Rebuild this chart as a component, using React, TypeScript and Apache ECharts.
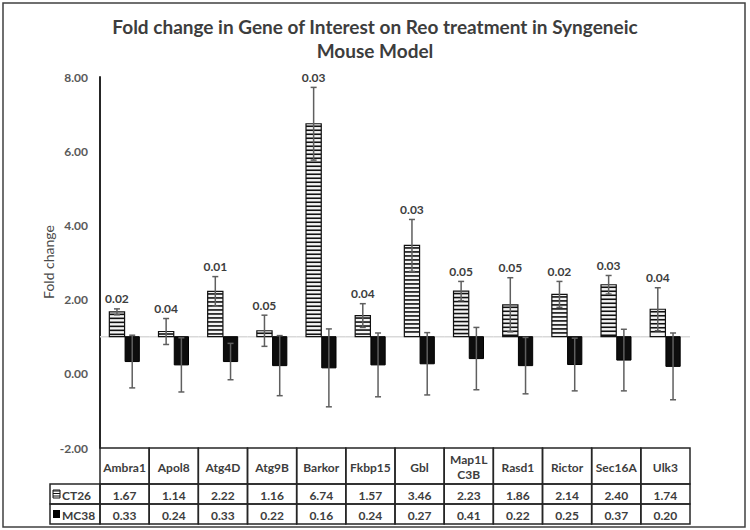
import React, { useEffect, useRef } from "react";
import * as echarts from "echarts";

const categories = ["Ambra1", "Apol8", "Atg4D", "Atg9B", "Barkor", "Fkbp15", "Gbl", "Map1L\nC3B", "Rasd1", "Rictor", "Sec16A", "Ulk3"];
const ct26 = [1.67, 1.14, 2.22, 1.16, 6.74, 1.57, 3.46, 2.23, 1.86, 2.14, 2.4, 1.74];
const mc38 = [0.33, 0.24, 0.33, 0.22, 0.16, 0.24, 0.27, 0.41, 0.22, 0.25, 0.37, 0.2];
const ct26Err = [0.08, 0.35, 0.4, 0.42, 0.98, 0.32, 0.7, 0.26, 0.73, 0.35, 0.25, 0.58];
const mc38Err = [0.71, 0.73, 0.49, 0.81, 1.05, 0.86, 0.84, 0.84, 0.76, 0.71, 0.83, 0.9];
const pValues = ["0.02", "0.04", "0.01", "0.05", "0.03", "0.04", "0.03", "0.05", "0.05", "0.02", "0.03", "0.04"];
const seriesNames = ["CT26", "MC38"];
const baseline = 1;
const yMin = -2;
const yMax = 8;
const yInterval = 2;

const FONT = "Lato, 'Open Sans', sans-serif";
const TXT = "#3d3d3d";
const LINE = "#262626";
const ERR = "#5f5f5f";
const HEADER_H = 36;
const ROW_H = 20;

function errorBar(x: number, yHi: number, yLo: number) {
  return [
    { type: "line", shape: { x1: x, y1: yHi, x2: x, y2: yLo }, style: { stroke: ERR, lineWidth: 1.5 } },
    { type: "line", shape: { x1: x - 3, y1: yHi, x2: x + 3, y2: yHi }, style: { stroke: ERR, lineWidth: 1.5 } },
    { type: "line", shape: { x1: x - 3, y1: yLo, x2: x + 3, y2: yLo }, style: { stroke: ERR, lineWidth: 1.5 } },
  ];
}

function txt(text: string, x: number, y: number, size: number, weight: string, align = "center") {
  return {
    type: "text",
    style: {
      text, x, y, fill: TXT, font: `${weight} ${size}px ${FONT}`,
      align, verticalAlign: "middle", textAlign: align, textVerticalAlign: "middle", lineHeight: 15,
    },
  };
}

export default function App() {
  const ref = useRef<HTMLDivElement>(null);
  useEffect(() => {
    document.body.style.margin = "0";
    const chart = echarts.init(ref.current!, null, { renderer: "svg" });

    const ctRender = (params: any, api: any) => {
      const i = api.value(0);
      const v = api.value(1);
      const e = api.value(2);
      const w = api.size([1, 0])[0];
      const [cx, yTop] = api.coord([i, v]);
      const yBase = api.coord([i, baseline])[1];
      const bw = w * 0.31;
      const x0 = cx - bw;
      const children: any[] = [
        { type: "rect", shape: { x: x0, y: yTop, width: bw, height: yBase - yTop }, style: { fill: "#f4f4f4", stroke: "#111", lineWidth: 1.2 } },
      ];
      for (let y = yTop + 2.5; y < yBase - 1; y += 4) {
        children.push({ type: "line", shape: { x1: x0, y1: y, x2: x0 + bw, y2: y }, style: { stroke: "#111", lineWidth: 1.6 } });
      }
      const yHi = api.coord([i, v + e])[1];
      const yLo = api.coord([i, v - e])[1];
      children.push(...errorBar(x0 + bw / 2, yHi, yLo));
      children.push(txt(pValues[params.dataIndex], x0 + bw / 2, yHi - 10, 12, "bold"));
      return { type: "group", children };
    };

    const mcRender = (params: any, api: any) => {
      const i = api.value(0);
      const v = api.value(1);
      const e = api.value(2);
      const w = api.size([1, 0])[0];
      const [cx, yBot] = api.coord([i, v]);
      const yBase = api.coord([i, baseline])[1];
      const bw = w * 0.29;
      const x0 = cx + 0.5;
      const children: any[] = [
        { type: "rect", shape: { x: x0, y: yBase, width: bw, height: yBot - yBase }, style: { fill: "#0d0d0d", stroke: "#000", lineWidth: 1 } },
      ];
      const yHi = api.coord([i, v + e])[1];
      const yLo = api.coord([i, v - e])[1];
      children.push(...errorBar(x0 + bw / 2, yHi, yLo));
      return { type: "group", children };
    };

    const baseRender = (params: any, api: any) => {
      const i = api.value(0);
      const w = api.size([1, 0])[0];
      const [cx, y] = api.coord([i, baseline]);
      return { type: "line", shape: { x1: cx - w / 2, y1: y, x2: cx + w / 2, y2: y }, style: { stroke: "#d9d9d9", lineWidth: 1.5 } };
    };

    const tableRender = (params: any, api: any) => {
      const i = api.value(0);
      const w = api.size([1, 0])[0];
      const [cx, yTop] = api.coord([i, yMin]);
      const x0 = cx - w / 2;
      const k = params.dataIndex;
      const cell = (y: number, h: number) => ({
        type: "rect", shape: { x: x0, y, width: w, height: h }, style: { fill: "none", stroke: LINE, lineWidth: 1.5 },
      });
      return {
        type: "group",
        children: [
          cell(yTop, HEADER_H),
          cell(yTop + HEADER_H, ROW_H),
          cell(yTop + HEADER_H + ROW_H, ROW_H),
          txt(categories[k], cx, yTop + HEADER_H / 2 + 1, 12, "bold"),
          txt(ct26[k].toFixed(2), cx, yTop + HEADER_H + ROW_H / 2 + 1, 12, "bold"),
          txt(mc38[k].toFixed(2), cx, yTop + HEADER_H + ROW_H * 1.5 + 1, 12, "bold"),
        ],
      };
    };

    const idx = categories.map((_, i) => i);
    const legendTop = 448 + HEADER_H;
    const iconStripes: any[] = [];
    for (let y = legendTop + 7; y < legendTop + 14; y += 2.5) {
      iconStripes.push({ type: "line", shape: { x1: 53, y1: y, x2: 60, y2: y }, style: { stroke: "#111", lineWidth: 1 } });
    }

    chart.setOption({
      animation: false,
      title: {
        text: "Fold change in Gene of Interest on Reo treatment in Syngeneic\nMouse Model",
        left: "center",
        top: 9,
        textStyle: { fontFamily: FONT, fontSize: 19, fontWeight: "bold", color: TXT, lineHeight: 24 },
      },
      grid: { left: 100, right: 60, top: 77, bottom: 82 },
      xAxis: { type: "category", data: categories, show: false },
      yAxis: {
        type: "value",
        min: yMin,
        max: yMax,
        interval: yInterval,
        axisLine: { show: true, lineStyle: { color: LINE, width: 2 } },
        axisTick: { show: false },
        splitLine: { show: false },
        axisLabel: {
          formatter: (v: number) => v.toFixed(2),
          fontFamily: FONT, fontSize: 12, fontWeight: "bold", color: "#595959", margin: 12,
        },
      },
      graphic: [
        { type: "rect", shape: { x: 3, y: 3, width: 742, height: 524 }, style: { fill: "none", stroke: "#404040", lineWidth: 1.5 } },
        {
          type: "text", x: 48, y: 262, rotation: Math.PI / 2,
          style: { text: "Fold change", fill: "#4a4a4a", font: `normal 14px ${FONT}`, textAlign: "center", textVerticalAlign: "middle", align: "center", verticalAlign: "middle" },
        },
        { type: "rect", shape: { x: 50, y: legendTop, width: 50, height: ROW_H }, style: { fill: "none", stroke: LINE, lineWidth: 1.5 } },
        { type: "rect", shape: { x: 50, y: legendTop + ROW_H, width: 50, height: ROW_H }, style: { fill: "none", stroke: LINE, lineWidth: 1.5 } },
        { type: "rect", shape: { x: 53, y: legendTop + 6, width: 7, height: 8 }, style: { fill: "#fff", stroke: "#111", lineWidth: 1 } },
        ...iconStripes,
        { type: "rect", shape: { x: 53, y: legendTop + ROW_H + 6, width: 7, height: 8 }, style: { fill: "#000" } },
        txt(seriesNames[0], 62, legendTop + ROW_H / 2 + 1, 12, "bold", "left"),
        txt(seriesNames[1], 62, legendTop + ROW_H * 1.5 + 1, 12, "bold", "left"),
      ],
      series: [
        { type: "custom", name: "base", renderItem: baseRender, data: idx.map((i) => [i]), z: 1, silent: true },
        { type: "custom", name: seriesNames[0], renderItem: ctRender, data: idx.map((i) => [i, ct26[i], ct26Err[i]]), z: 3, clip: false },
        { type: "custom", name: seriesNames[1], renderItem: mcRender, data: idx.map((i) => [i, mc38[i], mc38Err[i]]), z: 3, clip: false },
        { type: "custom", name: "table", renderItem: tableRender, data: idx.map((i) => [i]), z: 4, clip: false },
      ],
    });
    return () => chart.dispose();
  }, []);
  return <div ref={ref} style={{ width: 750, height: 530 }} />;
}
